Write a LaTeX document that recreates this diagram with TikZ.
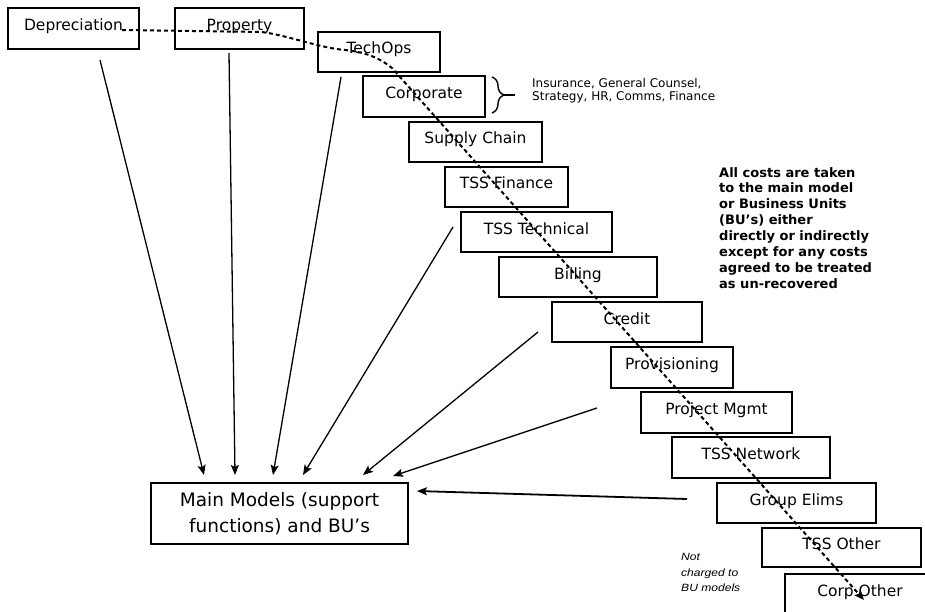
\documentclass[tikz,border=0pt]{standalone}
\usepackage{fontspec}
\setmainfont{DejaVu Sans}
\newfontfamily\notefont{Liberation Sans}
\usepackage{graphicx}
\usetikzlibrary{arrows.meta,decorations.pathreplacing}

\begin{document}
\begin{tikzpicture}[x=1pt,y=-1pt,
  stepbox/.style={draw, line width=1.5pt, inner sep=0pt, text height=11pt, text depth=7pt,
    font=\fontsize{15.5}{18}\selectfont},
  feed/.style={line width=1.3pt, -{Stealth[length=10pt,width=8pt,inset=2pt]}},
  flow/.style={line width=2pt, dash pattern=on 4pt off 3pt, -{Stealth[length=10pt,width=8pt,inset=2pt]}}]
\clip (0,0) rectangle (925,612);
\fill[white] (0,0) rectangle (925,612);

% boxes
\node[stepbox, minimum width=131pt, minimum height=41pt] (dep)   at (73.5,28.5) {Depreciation};
\node[stepbox, minimum width=129pt, minimum height=41pt] (prop)  at (239.5,28.5) {Property};
\node[stepbox, minimum width=122pt, minimum height=40pt] (tech)  at (379,52) {TechOps};
\node[stepbox, minimum width=122pt, minimum height=41pt] (corp)  at (424,96.5) {Corporate};
\node[stepbox, minimum width=133pt, minimum height=40pt] (supply) at (475.5,142) {Supply Chain};
\node[stepbox, minimum width=123pt, minimum height=40pt] (tssfin) at (506.5,187) {TSS Finance};
\node[stepbox, minimum width=151pt, minimum height=40pt] (tsstech) at (536.5,232) {TSS Technical};
\node[stepbox, minimum width=158pt, minimum height=40pt] (billing) at (578,277) {Billing};
\node[stepbox, minimum width=150pt, minimum height=40pt] (credit) at (627,322) {Credit};
\node[stepbox, minimum width=122pt, minimum height=41pt] (prov)  at (672,367.5) {Provisioning};
\node[stepbox, minimum width=151pt, minimum height=41pt] (proj)  at (716.5,412.5) {Project Mgmt};
\node[stepbox, minimum width=158pt, minimum height=41pt] (tssnet) at (751,457.5) {TSS Network};
\node[stepbox, minimum width=159pt, minimum height=40pt] (group) at (796.5,503) {Group Elims};
\node[stepbox, minimum width=159pt, minimum height=39pt] (tssother) at (841.5,547.5) {TSS Other};
\node[stepbox, minimum width=150pt, minimum height=40pt] (corpother) at (860,594) {Corp Other};

\node[draw, line width=1.5pt, inner sep=0pt, minimum width=257pt, minimum height=61pt,
  align=center, font=\fontsize{18.5}{26}\selectfont] (main) at (279.5,513.5)
  {Main Models (support\\functions) and BU’s};

% brace and its note
\coordinate (brtop) at (492,77);
\coordinate (brbot) at (492,113);
\draw[line width=1.4pt, decorate, decoration={brace, amplitude=12pt}] (brtop) -- (brbot);
\coordinate (brtip) at (504,95);
\coordinate (brend) at (515,95);
\draw[line width=1.4pt] (brtip) -- (brend);
\node[anchor=north west, align=left, inner sep=0pt, font=\fontsize{12}{13.5}\selectfont]
  (brtext) at (532,78) {Insurance, General Counsel,\\Strategy, HR, Comms, Finance};

% explanatory note
\node[anchor=north west, align=left, inner sep=0pt, font=\bfseries\fontsize{13}{15.9}\selectfont]
  (allcosts) at (719,167) {All costs are taken\\to the main model\\or Business Units\\(BU’s) either\\directly or indirectly\\except for any costs\\agreed to be treated\\as un-recovered};

\node[anchor=north west, inner sep=0pt] (notch) at (681,549.5)
  {\scalebox{1.15}[1]{\notefont\itshape\fontsize{10.5}{15.5}\selectfont
   \begin{tabular}{@{}l@{}}Not\\charged to\\BU models\end{tabular}}};

% feeding arrows
\coordinate (a1s) at (100,60);  \coordinate (a1e) at (204,475);
\coordinate (a2s) at (229,53);  \coordinate (a2e) at (235,475);
\coordinate (a3s) at (341,77);  \coordinate (a3e) at (273,475);
\coordinate (a4s) at (453,227); \coordinate (a4e) at (303,475);
\coordinate (a5s) at (538,332); \coordinate (a5e) at (363,475);
\coordinate (a6s) at (597,408); \coordinate (a6e) at (393,476);
\coordinate (a7s) at (687,499); \coordinate (a7e) at (417,491);
\draw[feed] (a1s) -- (a1e);
\draw[feed] (a2s) -- (a2e);
\draw[feed] (a3s) -- (a3e);
\draw[feed] (a4s) -- (a4e);
\draw[feed] (a5s) -- (a5e);
\draw[feed] (a6s) -- (a6e);
\draw[feed, line width=1.8pt] (a7s) -- (a7e);

% dashed cascade
\coordinate (d0) at (122,30);
\coordinate (d1) at (262,32);
\coordinate (d2) at (345,50);
\coordinate (d3) at (392,68);
\coordinate (d4) at (864,600);
\draw[flow] (d0) -- (d1) .. controls (290,36) and (320,48) .. (d2)
  .. controls (365,52) and (380,58) .. (d3) -- (d4);
\end{tikzpicture}
\end{document}
